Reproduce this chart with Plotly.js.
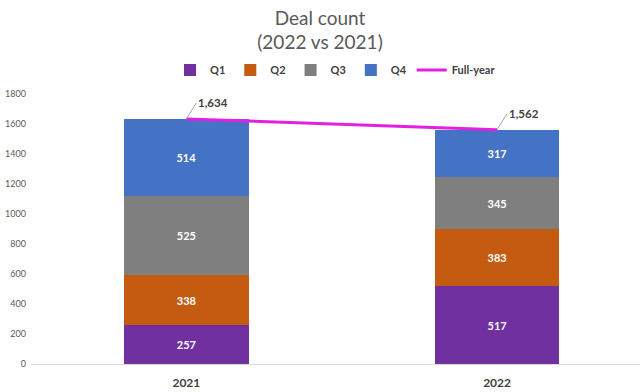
<!DOCTYPE html>
<html><head><meta charset="utf-8">
<script src="https://cdn.plot.ly/plotly-3.0.1.min.js"></script>
<style>body{margin:0;background:#fff}#c{width:640px;height:392px}</style>
</head><body><div id="c"></div>
<script>
const years = ['2021', '2022'];
const q1 = [257, 517];
const q2 = [338, 383];
const q3 = [525, 345];
const q4 = [514, 317];
const fullYear = [1634, 1562];
const fullYearLabels = ['1,634', '1,562'];
const seriesNames = ['Q1', 'Q2', 'Q3', 'Q4'];
const seriesColors = ['#7030A0', '#C55A11', '#7F7F7F', '#4472C4'];

const F = 'Lato, "Noto Sans", sans-serif';
const traces = [q1, q2, q3, q4].map((v, i) => ({
  type: 'bar', x: years, y: v, name: seriesNames[i],
  marker: {color: seriesColors[i]}, width: 0.4,
  text: v.map(String), textposition: 'inside', insidetextanchor: 'middle',
  textfont: {color: '#fff', size: 11, family: F, weight: 'bold'},
  hoverinfo: 'none'
}));
traces.push({
  type: 'scatter', mode: 'lines', x: years, y: fullYear, name: 'Full-year',
  line: {color: '#E31FE3', width: 3}, hoverinfo: 'none'
});

const annotations = years.map((y, i) => ({
  x: i, y: fullYear[i], xref: 'x', yref: 'y',
  text: '<b>' + fullYearLabels[i] + '</b>',
  showarrow: true, arrowhead: 0, arrowwidth: 1, arrowcolor: '#A6A6A6',
  ax: 10, ay: -16, xanchor: 'left', yanchor: 'middle',
  font: {size: 11.5, color: '#404040', family: F}
}));

const layout = {
  width: 640, height: 392,
  margin: {l: 31, r: 0, t: 94, b: 28},
  paper_bgcolor: '#fff', plot_bgcolor: '#fff',
  barmode: 'stack',
  title: {text: 'Deal count<br>(2022 vs 2021)', x: 0.5, xanchor: 'center', y: 0.937, yanchor: 'middle',
          font: {size: 19, color: '#595959', family: F}},
  showlegend: true,
  legend: {orientation: 'h', x: 0.5, xanchor: 'center', y: 1.089, yanchor: 'middle',
           font: {size: 11, color: '#404040', family: F, weight: 'bold'},
           traceorder: 'normal', itemwidth: 30},
  xaxis: {type: 'category', range: [-0.5, 1.46], showline: true, linecolor: '#D9D9D9', linewidth: 1,
          ticks: '', ticklabelstandoff: 8, tickfont: {size: 12, color: '#404040', family: F, weight: 'bold'}, showgrid: false},
  yaxis: {range: [0, 1800], dtick: 200, showgrid: false, zeroline: false, showline: false,
          tickfont: {size: 9, color: '#595959', family: F}, ticks: '', ticklabelstandoff: 4},
  annotations: annotations
};
Plotly.newPlot('c', traces, layout, {displayModeBar: false, staticPlot: true});
</script></body></html>
